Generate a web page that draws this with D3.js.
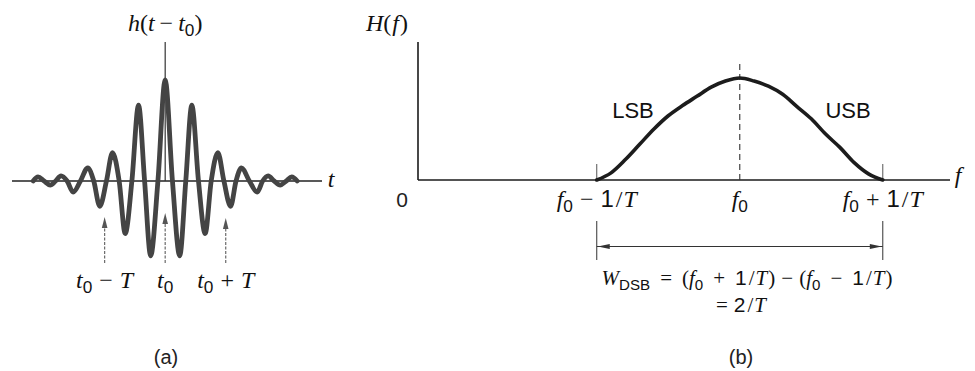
<!DOCTYPE html>
<html>
<head>
<meta charset="utf-8">
<script src="https://cdn.jsdelivr.net/npm/d3@7"></script>
<style>
  html, body { margin: 0; padding: 0; background: #fff; }
  svg { display: block; }
</style>
</head>
<body>
<svg id="fig" width="975" height="371"></svg>
<script>
// (a) impulse response h(t - t0): extrema and zero crossings, t in units of T, h normalised to the main peak
const waveT = [-2.18, -2.10, -2.00, -1.90, -1.81, -1.72, -1.62, -1.52, -1.40, -1.28, -1.18, -1.08, -0.97,
               -0.87, -0.76, -0.66, -0.55, -0.44, -0.34, -0.24, -0.12, 0,
               0.12, 0.24, 0.34, 0.44, 0.55, 0.66, 0.76, 0.87, 0.97, 1.08, 1.17, 1.26, 1.39, 1.52, 1.61,
               1.70, 1.80, 1.90, 2.00, 2.09, 2.18];
const waveH = [0, 0.04, 0, -0.04, 0, 0.05, 0, -0.11, 0, 0.13, 0, -0.25, 0,
               0.28, 0, -0.52, 0, 0.75, 0, -0.74, 0, 1.0,
               0, -0.74, 0, 0.75, 0, -0.52, 0, 0.28, 0, -0.25, 0, 0.13, 0, -0.11, 0,
               0.05, 0, -0.04, 0, 0.04, 0];
const timeMarks = [-1, 0, 1];            // t0 - T, t0, t0 + T

// (b) transfer function H(f): offset from f0 in units of 1/T, H normalised to the peak
const freqOffset = [-1, -0.9, -0.8, -0.7, -0.6, -0.5, -0.4, -0.3, -0.2, -0.1, 0,
                    0.1, 0.2, 0.3, 0.4, 0.5, 0.6, 0.7, 0.8, 0.9, 1];
const freqH = [0, 0.07, 0.2, 0.35, 0.5, 0.63, 0.73, 0.82, 0.91, 0.97, 1,
               0.97, 0.92, 0.84, 0.72, 0.6, 0.45, 0.32, 0.17, 0.06, 0];
const f0 = 2.25;                          // carrier, in units of 1/T
const freqMarks = [-1, 0, 1];             // f0 - 1/T, f0, f0 + 1/T

const svg = d3.select('#fig');
const SERIF = '"Liberation Serif", "Times New Roman", serif';
const SANS = '"Liberation Sans", Arial, sans-serif';

// text built from italic / upright / subscript pieces
function mathText(parent, x, y, parts, size, anchor = 'middle') {
  const t = parent.append('text')
    .attr('x', x).attr('y', y)
    .attr('text-anchor', anchor)
    .attr('font-size', size)
    .attr('font-family', SERIF)
    .attr('fill', '#111');
  let shifted = false;
  parts.forEach(p => {
    const sp = t.append('tspan').text(p.s);
    const sub = !!p.sub;
    if (sub && !shifted) sp.attr('dy', 0.22 * size);
    if (!sub && shifted) sp.attr('dy', -0.22 * size);
    shifted = sub;
    if (sub) sp.attr('font-size', size * 0.72);
    if (p.i) sp.attr('font-style', 'italic');
    if (p.sans) sp.attr('font-family', SANS);
    if (p.dx) sp.attr('dx', p.dx);
  });
  return t;
}

// arrowhead polygon pointing from (x1,y1) towards tip (x2,y2)
function arrowHead(parent, x1, y1, x2, y2, len, half, fill) {
  const a = Math.atan2(y2 - y1, x2 - x1);
  const bx = x2 - len * Math.cos(a), by = y2 - len * Math.sin(a);
  const px = -Math.sin(a) * half, py = Math.cos(a) * half;
  parent.append('path')
    .attr('d', `M${x2},${y2}L${bx + px},${by + py}L${bx - px},${by - py}Z`)
    .attr('fill', fill);
}

// ---------- (a) ----------
const gA = svg.append('g');
const xA = d3.scaleLinear().domain([-2.53, 2.59]).range([12, 322]);
const yA = d3.scaleLinear().domain([0, 1]).range([181, 80]);

// time axis
gA.append('line')
  .attr('x1', xA.range()[0]).attr('x2', xA.range()[1])
  .attr('y1', yA(0)).attr('y2', yA(0))
  .attr('stroke', '#222').attr('stroke-width', 1.6);

// marker through t0 up to the label
gA.append('line')
  .attr('x1', xA(0)).attr('x2', xA(0))
  .attr('y1', 42).attr('y2', yA(0))
  .attr('stroke', '#333').attr('stroke-width', 1.2);

const wave = waveT.map((t, i) => [t, waveH[i]]);
gA.append('path')
  .datum(wave)
  .attr('d', d3.line().x(d => xA(d[0])).y(d => yA(d[1])).curve(d3.curveMonotoneX))
  .attr('fill', 'none')
  .attr('stroke', '#444')
  .attr('stroke-width', 4.8)
  .attr('stroke-linejoin', 'round')
  .attr('stroke-linecap', 'round');

// arrows pointing at t0 - T, t0, t0 + T
const tipY = { '-1': 217, '0': 213, '1': 218 };
timeMarks.forEach(m => {
  const x = xA(m);
  gA.append('line')
    .attr('x1', x).attr('x2', x)
    .attr('y1', 263).attr('y2', tipY[m] + 6)
    .attr('stroke', '#6a6a6a').attr('stroke-width', 1.2)
    .attr('stroke-dasharray', '3,1.5');
  arrowHead(gA, x, 263, x, tipY[m], 11, 2.8, '#555');
});

mathText(gA, xA(0), 31, [
  { s: 'h', i: true }, { s: '(' }, { s: 't', i: true },
  { s: '−', dx: 5 }, { s: 't', i: true, dx: 5 }, { s: '0', sub: true, sans: true }, { s: ')' }
], 24);

mathText(gA, 331, 187, [{ s: 't', i: true }], 24);

mathText(gA, xA(-1), 288, [
  { s: 't', i: true }, { s: '0', sub: true, sans: true },
  { s: '−', dx: 7 }, { s: 'T', i: true, dx: 7 }
], 24);
mathText(gA, xA(0), 288, [
  { s: 't', i: true }, { s: '0', sub: true, sans: true }
], 24);
mathText(gA, xA(1), 288, [
  { s: 't', i: true }, { s: '0', sub: true, sans: true },
  { s: '+', dx: 7 }, { s: 'T', i: true, dx: 7 }
], 24);

gA.append('text')
  .attr('x', 166).attr('y', 364)
  .attr('text-anchor', 'middle')
  .attr('font-family', SANS).attr('font-size', 20).attr('fill', '#222')
  .text('(a)');

// ---------- (b) ----------
const gB = svg.append('g');
const xB = d3.scaleLinear().domain([0, 3.72]).range([418, 950]);
const yB = d3.scaleLinear().domain([0, 1]).range([180, 78]);

// axes
gB.append('line')
  .attr('x1', xB(0)).attr('x2', xB(0))
  .attr('y1', 42).attr('y2', yB(0))
  .attr('stroke', '#1a1a1a').attr('stroke-width', 1.6);
gB.append('line')
  .attr('x1', xB(0)).attr('x2', xB.range()[1])
  .attr('y1', yB(0)).attr('y2', yB(0))
  .attr('stroke', '#1a1a1a').attr('stroke-width', 1.6);

// dashed centre line at f0
gB.append('line')
  .attr('x1', xB(f0)).attr('x2', xB(f0))
  .attr('y1', 64).attr('y2', yB(0))
  .attr('stroke', '#333').attr('stroke-width', 1.1)
  .attr('stroke-dasharray', '6,4');

// band-edge ticks
[-1, 1].forEach(m => {
  gB.append('line')
    .attr('x1', xB(f0 + m)).attr('x2', xB(f0 + m))
    .attr('y1', 164).attr('y2', yB(0))
    .attr('stroke', '#555').attr('stroke-width', 1);
});

const spectrum = freqOffset.map((o, i) => [f0 + o, freqH[i]]);
gB.append('path')
  .datum(spectrum)
  .attr('d', d3.line().x(d => xB(d[0])).y(d => yB(d[1])).curve(d3.curveMonotoneX))
  .attr('fill', 'none')
  .attr('stroke', '#1c1c1c')
  .attr('stroke-width', 3.6)
  .attr('stroke-linecap', 'round');

mathText(gB, 387, 31, [
  { s: 'H', i: true }, { s: '(' }, { s: 'f', i: true, dx: 1 }, { s: ')', dx: 1 }
], 24);
mathText(gB, 958, 183, [{ s: 'f', i: true }], 24);

gB.append('text')
  .attr('x', 402).attr('y', 207)
  .attr('text-anchor', 'middle')
  .attr('font-family', SANS).attr('font-size', 21).attr('fill', '#222')
  .text('0');

gB.append('text')
  .attr('x', 633).attr('y', 118)
  .attr('text-anchor', 'middle')
  .attr('font-family', SANS).attr('font-size', 22).attr('fill', '#111')
  .text('LSB');
gB.append('text')
  .attr('x', 848).attr('y', 118)
  .attr('text-anchor', 'middle')
  .attr('font-family', SANS).attr('font-size', 22).attr('fill', '#111')
  .text('USB');

// tick labels
const tickParts = {
  '-1': [{ s: 'f', i: true }, { s: '0', sub: true, sans: true }, { s: '−', dx: 7 },
         { s: '1', sans: true, dx: 7 }, { s: '/', dx: 2 }, { s: 'T', i: true, dx: 1 }],
  '0': [{ s: 'f', i: true }, { s: '0', sub: true, sans: true }],
  '1': [{ s: 'f', i: true }, { s: '0', sub: true, sans: true }, { s: '+', dx: 7 },
        { s: '1', sans: true, dx: 7 }, { s: '/', dx: 2 }, { s: 'T', i: true, dx: 1 }]
};
freqMarks.forEach(m => {
  mathText(gB, xB(f0 + m), 207, tickParts[m], 24);
});

// bandwidth dimension
const dimY = 246.5;
[-1, 1].forEach(m => {
  gB.append('line')
    .attr('x1', xB(f0 + m)).attr('x2', xB(f0 + m))
    .attr('y1', 221).attr('y2', 260)
    .attr('stroke', '#333').attr('stroke-width', 1);
});
gB.append('line')
  .attr('x1', xB(f0 - 1)).attr('x2', xB(f0 + 1))
  .attr('y1', dimY).attr('y2', dimY)
  .attr('stroke', '#333').attr('stroke-width', 1.1);
arrowHead(gB, xB(f0), dimY, xB(f0 - 1) + 1, dimY, 12, 2.6, '#333');
arrowHead(gB, xB(f0), dimY, xB(f0 + 1) - 1, dimY, 12, 2.6, '#333');

mathText(gB, 747, 285, [
  { s: 'W', i: true }, { s: 'DSB', sub: true, sans: true },
  { s: '=', dx: 10 }, { s: '(', dx: 10 }, { s: 'f', i: true }, { s: '0', sub: true, sans: true },
  { s: '+', dx: 10 }, { s: '1', sans: true, dx: 10 }, { s: '/', dx: 2 }, { s: 'T', i: true, dx: 1 }, { s: ')', dx: 1 },
  { s: '−', dx: 6 }, { s: '(', dx: 6 }, { s: 'f', i: true }, { s: '0', sub: true, sans: true },
  { s: '−', dx: 10 }, { s: '1', sans: true, dx: 10 }, { s: '/', dx: 2 }, { s: 'T', i: true, dx: 1 }, { s: ')', dx: 1 }
], 21);
mathText(gB, 741, 312, [
  { s: '=' }, { s: '2', sans: true, dx: 6 }, { s: '/', dx: 2 }, { s: 'T', i: true, dx: 1 }
], 21);

gB.append('text')
  .attr('x', 741).attr('y', 364)
  .attr('text-anchor', 'middle')
  .attr('font-family', SANS).attr('font-size', 20).attr('fill', '#222')
  .text('(b)');
</script>
</body>
</html>
